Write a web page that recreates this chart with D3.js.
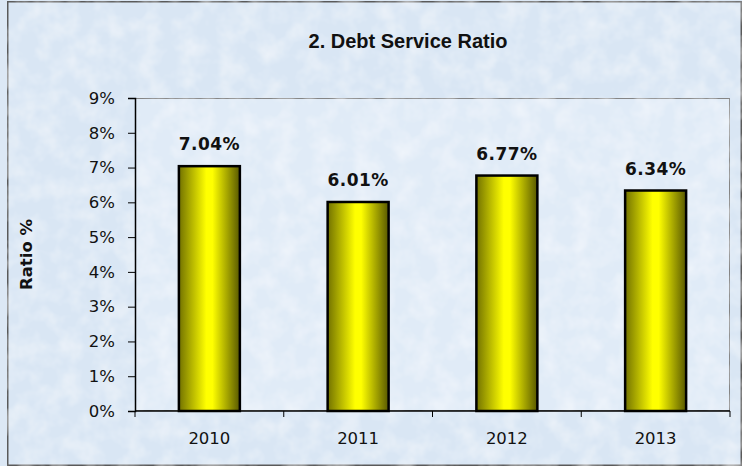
<!DOCTYPE html>
<html>
<head>
<meta charset="utf-8">
<script src="https://cdn.jsdelivr.net/npm/d3@7"></script>
<style>
  body { margin: 0; background: #dce8f5; }
  svg { display: block; }
</style>
</head>
<body>
<div id="chart-area"></div>
<script>
var years  = ["2010", "2011", "2012", "2013"];
var ratios = [7.04, 6.01, 6.77, 6.34];
var yTicks = [0, 1, 2, 3, 4, 5, 6, 7, 8, 9];

var W = 742, H = 466;
var margin = { top: 98, bottom: 55, left: 135, right: 12 };
var width  = W - margin.left - margin.right;
var height = H - margin.top - margin.bottom;

var svg = d3.select("#chart-area")
    .append("svg")
        .attr("width", W)
        .attr("height", H);

var defs = svg.append("defs");

// soft paper texture for the background
var filt = defs.append("filter").attr("id", "tex")
    .attr("x", 0).attr("y", 0).attr("width", "100%").attr("height", "100%");
filt.append("feTurbulence")
    .attr("type", "fractalNoise")
    .attr("baseFrequency", "0.05")
    .attr("numOctaves", 3)
    .attr("seed", 4)
    .attr("result", "noise");
filt.append("feColorMatrix")
    .attr("in", "noise")
    .attr("type", "matrix")
    .attr("values", "0 0 0 0 1  0 0 0 0 1  0 0 0 0 1  0 0 0 0.8 -0.3")
    .attr("result", "spots");
filt.append("feComposite")
    .attr("in", "spots").attr("in2", "SourceGraphic").attr("operator", "atop");

var grad = defs.append("linearGradient")
    .attr("id", "barGrad")
    .attr("x1", "0%").attr("x2", "100%").attr("y1", "0%").attr("y2", "0%");
grad.append("stop").attr("offset", "0%").attr("stop-color", "#727200");
grad.append("stop").attr("offset", "45%").attr("stop-color", "#ffff00");
grad.append("stop").attr("offset", "55%").attr("stop-color", "#ffff00");
grad.append("stop").attr("offset", "100%").attr("stop-color", "#585800");

// chart background and frame
svg.append("rect")
    .attr("x", 7.5).attr("y", 1.5)
    .attr("width", W - 8).attr("height", H - 2)
    .attr("fill", "#d9e6f4")
    .attr("filter", "url(#tex)")
    .attr("stroke", "#5a5a5a")
    .attr("stroke-width", 2);

svg.append("text")
    .attr("x", 408)
    .attr("y", 48)
    .attr("text-anchor", "middle")
    .attr("font-family", "Liberation Sans, Arial, sans-serif")
    .attr("font-weight", "bold")
    .attr("font-size", "20px")
    .attr("fill", "#111")
    .text("2. Debt Service Ratio");

var g = svg.append("g")
    .attr("transform", "translate(" + margin.left + ", " + margin.top + ")");

var x = d3.scaleBand()
    .domain(years)
    .range([0, width])
    .paddingInner(0.59)
    .paddingOuter(0.295);

var xCat = d3.scaleBand()
    .domain(years)
    .range([0, width]);

var y = d3.scaleLinear()
    .domain([0, 9])
    .range([height, 0]);

// plot area
g.append("rect")
    .attr("width", width)
    .attr("height", height)
    .attr("fill", "#e0ebf7")
    .attr("filter", "url(#tex)")
    .attr("stroke", "#858585")
    .attr("stroke-width", 2);

var yAxisCall = d3.axisLeft(y)
    .tickValues(yTicks)
    .tickSize(7)
    .tickFormat(function(d) { return d + "%"; });

var yAxis = g.append("g")
    .attr("class", "y-axis")
    .call(yAxisCall);
yAxis.select(".domain").attr("stroke", "#000").attr("stroke-width", 1.5);
yAxis.selectAll(".tick line").attr("stroke", "#000");
yAxis.selectAll("text")
    .attr("x", -20)
    .attr("font-family", "DejaVu Sans, Verdana, sans-serif")
    .attr("font-size", "16.5px")
    .attr("fill", "#111");

var xAxisCall = d3.axisBottom(xCat)
    .tickSize(0)
    .tickPadding(21);

var xAxis = g.append("g")
    .attr("class", "x-axis")
    .attr("transform", "translate(0, " + height + ")")
    .call(xAxisCall);
xAxis.select(".domain").remove();
xAxis.selectAll("text")
    .attr("font-family", "DejaVu Sans, Verdana, sans-serif")
    .attr("font-size", "16.5px")
    .attr("fill", "#111");

// tick marks between categories
var bounds = years.map(function(d) { return xCat(d); }).concat([width]);
g.selectAll(".xtick")
    .data(bounds)
    .enter()
    .append("line")
        .attr("x1", function(d) { return d; })
        .attr("x2", function(d) { return d; })
        .attr("y1", height)
        .attr("y2", height + 6)
        .attr("stroke", "#000");

g.append("line")
    .attr("x1", 0).attr("x2", width)
    .attr("y1", height).attr("y2", height)
    .attr("stroke", "#000")
    .attr("stroke-width", 1.5);

var rects = g.selectAll(".bar")
    .data(ratios);

rects.enter()
    .append("rect")
        .attr("class", "bar")
        .attr("x", function(d, i) { return x(years[i]); })
        .attr("y", function(d) { return y(d); })
        .attr("width", x.bandwidth())
        .attr("height", function(d) { return height - y(d); })
        .attr("fill", "url(#barGrad)")
        .attr("stroke", "#000")
        .attr("stroke-width", 2.5);

g.selectAll(".label")
    .data(ratios)
    .enter()
    .append("text")
        .attr("class", "label")
        .attr("x", function(d, i) { return x(years[i]) + x.bandwidth() / 2; })
        .attr("y", function(d) { return y(d) - 16; })
        .attr("text-anchor", "middle")
        .attr("font-family", "DejaVu Sans, Verdana, sans-serif")
        .attr("font-weight", "bold")
        .attr("font-size", "17px")
        .attr("letter-spacing", "0.5px")
        .attr("fill", "#111")
        .text(function(d) { return d.toFixed(2) + "%"; });

svg.append("text")
    .attr("x", -(margin.top + height / 2))
    .attr("y", 32)
    .attr("transform", "rotate(-90)")
    .attr("text-anchor", "middle")
    .attr("font-family", "DejaVu Sans, Verdana, sans-serif")
    .attr("font-weight", "bold")
    .attr("font-size", "16.5px")
    .attr("fill", "#111")
    .text("Ratio %");
</script>
</body>
</html>
